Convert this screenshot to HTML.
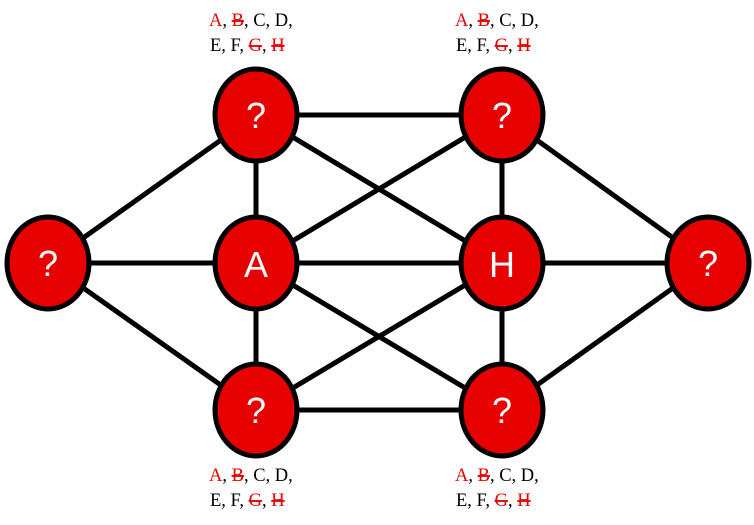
<!DOCTYPE html>
<html><head><style>
html,body{margin:0;padding:0;background:#fff;}
.lbl{font-family:"Liberation Serif",serif;font-size:18.5px;fill:#000;}
.r{fill:#e60000;}
.nt{font-family:"Liberation Sans",sans-serif;font-size:36px;fill:#fff;text-anchor:middle;}
</style></head><body>
<svg width="754" height="520" viewBox="0 0 754 520" xmlns="http://www.w3.org/2000/svg">
<g stroke="#000" stroke-width="5">
<line x1="48" y1="263" x2="256" y2="115"/>
<line x1="48" y1="263" x2="256" y2="263"/>
<line x1="48" y1="263" x2="256" y2="410"/>
<line x1="256" y1="115" x2="256" y2="410"/>
<line x1="256" y1="115" x2="502" y2="115"/>
<line x1="256" y1="115" x2="502" y2="263"/>
<line x1="256" y1="263" x2="502" y2="115"/>
<line x1="256" y1="263" x2="502" y2="263"/>
<line x1="256" y1="263" x2="502" y2="410"/>
<line x1="256" y1="410" x2="502" y2="410"/>
<line x1="256" y1="410" x2="502" y2="263"/>
<line x1="502" y1="115" x2="502" y2="410"/>
<line x1="502" y1="115" x2="708" y2="263"/>
<line x1="502" y1="263" x2="708" y2="263"/>
<line x1="502" y1="410" x2="708" y2="263"/>
</g>
<g fill="#e60000" stroke="#000" stroke-width="5">
<ellipse cx="48" cy="263" rx="41" ry="46"/>
<ellipse cx="256" cy="115" rx="41" ry="46"/>
<ellipse cx="256" cy="263" rx="41" ry="46"/>
<ellipse cx="256" cy="410" rx="41" ry="46"/>
<ellipse cx="502" cy="115" rx="41" ry="46"/>
<ellipse cx="502" cy="263" rx="41" ry="46"/>
<ellipse cx="502" cy="410" rx="41" ry="46"/>
<ellipse cx="708" cy="263" rx="41" ry="46"/>
</g>
<text class="nt" x="48" y="276">?</text>
<text class="nt" x="256" y="128">?</text>
<text class="nt" x="256" y="277">A</text>
<text class="nt" x="256" y="423">?</text>
<text class="nt" x="502" y="128">?</text>
<text class="nt" x="502" y="277">H</text>
<text class="nt" x="502" y="423">?</text>
<text class="nt" x="708" y="276">?</text>
<g>
<g id="L">
<text class="lbl" x="209" y="26"><tspan class="r">A</tspan>, <tspan class="r" text-decoration="line-through">B</tspan>, C, D,</text>
<text class="lbl" x="210" y="51">E, F, <tspan class="r" text-decoration="line-through">G</tspan>, <tspan class="r" text-decoration="line-through">H</tspan></text>
</g>
<use href="#L" x="246" y="0"/>
<use href="#L" x="0" y="455"/>
<use href="#L" x="246" y="455"/>
</g>
</svg>
</body></html>
